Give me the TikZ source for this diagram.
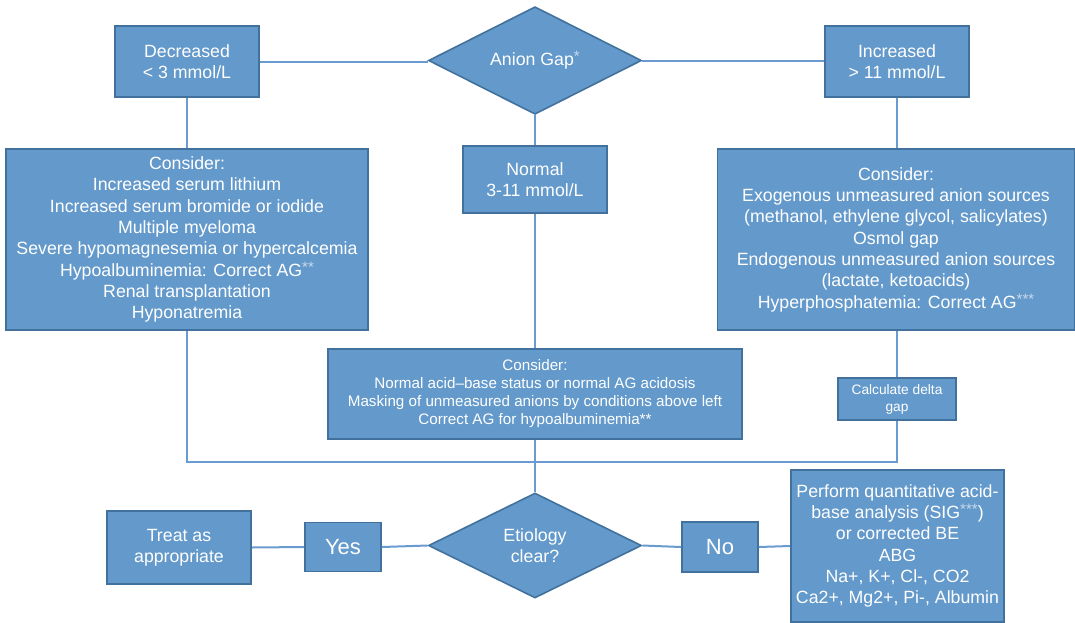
\documentclass[tikz,border=0pt]{standalone}
\usepackage{fontspec}
\setmainfont{Liberation Sans}
\usetikzlibrary{shapes.geometric}
\definecolor{boxfill}{HTML}{6399CB}
\definecolor{boxline}{HTML}{41719C}
\definecolor{wirecol}{HTML}{6A9BD0}
\definecolor{starcol}{HTML}{C9D9EC}
% footnote markers: pale, slightly raised asterisks
\newcommand{\fnstars}[1]{\raisebox{0.22em}{\scalebox{0.85}{\color{starcol}#1}}}

\begin{document}
\begin{tikzpicture}[x=0.75pt,y=-0.75pt,
  sz/.style 2 args={minimum width=#1*0.75pt, minimum height=#2*0.75pt},
  base/.style={fill=boxfill, draw=boxline, line width=1.2pt, text=white,
               inner sep=0pt, align=center},
  rbox/.style={base, rectangle},
  dbox/.style={base, diamond},
  txtbig/.style={font=\fontsize{13.3}{16}\selectfont},
  txtmid/.style={font=\fontsize{11.4}{13.5}\selectfont},
  txtsmall/.style={font=\fontsize{10.3}{12.7}\selectfont},
  txtlarge/.style={font=\fontsize{16.5}{20}\selectfont},
  link/.style={draw=wirecol, line width=1.5pt}
]
\useasboundingbox (0,0) rectangle (1075,622);

% top row
\node[dbox, sz={213}{106}, txtbig] (ag) at (535,60.5) {Anion Gap\fnstars{*}};
\node[rbox, sz={144}{71}, txtbig] (dec) at (187,61.5) {Decreased\\< 3 mmol/L};
\node[rbox, sz={144}{71}, txtbig] (inc) at (897,61.5) {Increased\\> 11 mmol/L};

% second row
\node[rbox, sz={362}{181}, txtbig] (lcon) at (187,239.5) {Consider:\\
  Increased serum lithium\\
  Increased serum bromide or iodide\\
  Multiple myeloma\\
  Severe hypomagnesemia or hypercalcemia\\
  Hypoalbuminemia: Correct AG\fnstars{**}\\
  Renal transplantation\\
  Hyponatremia};
\node[rbox, sz={144}{67}, txtbig] (norm) at (535,179.5) {Normal\\3-11 mmol/L};
\node[rbox, sz={357}{181}, txtbig] (rcon) at (896,239.5) {Consider:\\
  Exogenous unmeasured anion sources\\
  (methanol, ethylene glycol, salicylates)\\
  Osmol gap\\
  Endogenous unmeasured anion sources\\
  (lactate, ketoacids)\\
  Hyperphosphatemia: Correct AG\fnstars{***}};

% third row
\node[rbox, sz={414}{90}, txtmid] (mcon) at (535,394) {Consider:\\
  Normal acid–base status or normal AG acidosis\\
  Masking of unmeasured anions by conditions above left\\
  Correct AG for hypoalbuminemia**};
\node[rbox, sz={118}{42}, txtsmall] (delta) at (897,399) {Calculate delta\\gap};

% bottom row
\node[dbox, sz={213}{105}, txtbig] (eti) at (535,545.5) {Etiology\\clear?};
\node[rbox, sz={76}{49}, txtlarge] (yes) at (343,547) {Yes};
\node[rbox, sz={144}{73}, txtbig] (treat) at (179,547.5) {Treat as\\appropriate};
\node[rbox, sz={76}{50}, txtlarge] (no) at (720,547) {No};
\node[rbox, sz={213}{152}, txtbig] (quant) at (897.5,546) {Perform quantitative acid-\\
  base analysis (SIG\fnstars{***})\\
  or corrected BE\\
  ABG\\
  Na+, K+, Cl-, CO2\\
  Ca2+, Mg2+, Pi-, Albumin};

\coordinate (jn) at (535,462);

% connectors
\draw[link] (dec.east) -- (dec.east -| ag.west);
\draw[link] (ag.east) -- (ag.east -| inc.west);
\draw[link] (dec.south) -- (dec.south |- lcon.north);
\draw[link] (inc.south) -- (inc.south |- rcon.north);
\draw[link] (ag.south) -- (norm.north);
\draw[link] (norm.south) -- (mcon.north);
\draw[link] (mcon.south) -- (eti.north);
\draw[link] (lcon.south) |- (jn);
\draw[link] (rcon.south -| delta.north) -- (delta.north);
\draw[link] (delta.south) |- (jn);
\draw[link] (eti.west) -- (yes.east);
\draw[link] (yes.west) -- (treat.east);
\draw[link] (eti.east) -- (no.west);
\draw[link] (no.east) -- (quant.west);
\end{tikzpicture}
\end{document}
